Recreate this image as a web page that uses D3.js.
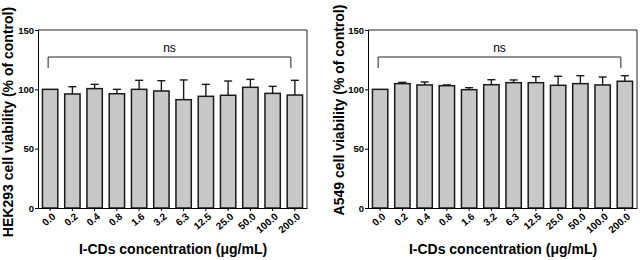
<!DOCTYPE html>
<html>
<head>
<meta charset="utf-8">
<script src="https://cdn.jsdelivr.net/npm/d3@7"></script>
<style>
  body { margin: 0; background: #fff; }
  svg { display: block; font-family: "Liberation Sans", Arial, sans-serif; }
  .axis text { font-size: 9.5px; font-weight: bold; fill: #000; }
  .axis path, .axis line { stroke: #000; stroke-width: 1; }
  .xlab { font-size: 10px; font-weight: bold; fill: #000; }
</style>
</head>
<body>
<svg width="640" height="260"></svg>
<script>
// concentrations (µg/mL)
const concentrations = ["0.0", "0.2", "0.4", "0.8", "1.6", "3.2", "6.3", "12.5", "25.0", "50.0", "100.0", "200.0"];
const yTicks = [0, 50, 100, 150];

// HEK293 viability, mean and upper error
const hekMean = [100, 96.1, 100.6, 96.3, 100, 98.6, 91.3, 94.1, 95.0, 101.7, 96.6, 95.2];
const hekErr  = [0, 6.1, 3.6, 3.7, 7.6, 8.7, 16.6, 10.1, 12.0, 6.7, 5.9, 12.4];

// A549 viability
const a549Mean = [100, 104.8, 103.7, 103.1, 99.7, 103.9, 105.6, 105.6, 103.4, 104.8, 103.7, 106.8];
const a549Err  = [0, 1.1, 2.5, 0.6, 1.7, 4.2, 2.3, 5.1, 7.6, 6.7, 6.7, 4.7];

const panels = [
    { x0: 38, label: "HEK293 cell viability (% of control)", mean: hekMean, err: hekErr, labelX: 13, labelY: 122 },
    { x0: 368, label: "A549 cell viability (% of control)", mean: a549Mean, err: a549Err, labelX: 344, labelY: 110 }
];

const svg = d3.select("svg");
const plotW = 269, plotTop = 30, plotBottom = 208;

let y = d3.scaleLinear().domain([0, 150]).range([plotBottom, plotTop]);

for (let p of panels) {
    let g = svg.append("g").attr("transform", "translate(" + p.x0 + ",0)");
    let x = d3.scaleBand().domain(concentrations).range([0, plotW]).paddingInner(0.31).paddingOuter(0.2);
    let data = concentrations.map((c, i) => ({ c: c, m: p.mean[i], e: p.err[i] }));
    let cx = c => x(c) + x.bandwidth() / 2;

    // bars
    g.selectAll(".bar")
        .data(data)
        .enter().append("rect")
        .attr("x", d => x(d.c))
        .attr("y", d => y(d.m))
        .attr("width", x.bandwidth())
        .attr("height", d => y(0) - y(d.m))
        .attr("fill", "#c8c8c8")
        .attr("stroke", "#1a1a1a")
        .attr("stroke-width", 1.5);

    // error bars (upper only)
    let eb = g.selectAll(".err")
        .data(data.filter(d => d.e > 0))
        .enter().append("g");
    eb.append("line")
        .attr("x1", d => cx(d.c))
        .attr("x2", d => cx(d.c))
        .attr("y1", d => y(d.m))
        .attr("y2", d => y(d.m + d.e))
        .attr("stroke", "#1a1a1a").attr("stroke-width", 1.4);
    eb.append("line")
        .attr("x1", d => cx(d.c) - 4)
        .attr("x2", d => cx(d.c) + 4)
        .attr("y1", d => y(d.m + d.e))
        .attr("y2", d => y(d.m + d.e))
        .attr("stroke", "#1a1a1a").attr("stroke-width", 1.4);

    // frame (top and right)
    g.append("path")
        .attr("d", "M0," + plotTop + "H" + plotW + "V" + plotBottom)
        .attr("fill", "none").attr("stroke", "#222").attr("stroke-width", 1);

    // y axis
    g.append("g").attr("class", "axis")
        .call(d3.axisLeft(y).tickValues(yTicks).tickSize(3).tickPadding(1));

    // x axis, ticks only; labels drawn separately, slanted
    let xa = g.append("g").attr("class", "axis")
        .attr("transform", "translate(0," + plotBottom + ")")
        .call(d3.axisBottom(x).tickSize(3).tickSizeOuter(0).tickFormat(""));
    xa.select(".domain").attr("stroke-width", 1.5);

    g.selectAll(".xlab")
        .data(concentrations)
        .enter().append("text")
        .attr("class", "xlab")
        .attr("transform", c => "translate(" + (cx(c) + 4) + "," + (plotBottom + 7) + ") rotate(-40)")
        .attr("text-anchor", "end")
        .attr("dy", "0.35em")
        .text(c => c);

    // significance bracket
    let x1 = cx(concentrations[0]) - 2;
    let x2 = cx(concentrations[concentrations.length - 1]) - 4;
    let by = 57;
    g.append("path")
        .attr("d", "M" + x1 + "," + (by + 11) + "V" + by + "H" + x2 + "V" + (by + 11))
        .attr("fill", "none").attr("stroke", "#222").attr("stroke-width", 1);
    g.append("text")
        .attr("x", (x1 + x2) / 2)
        .attr("y", by - 5)
        .attr("text-anchor", "middle")
        .attr("fill", "#000")
        .style("font-size", "12px")
        .text("ns");

    // axis titles
    svg.append("text")
        .attr("transform", "translate(" + p.labelX + "," + p.labelY + ") rotate(-90)")
        .attr("text-anchor", "middle")
        .style("font-size", "14px").style("font-weight", "bold")
        .text(p.label);
    svg.append("text")
        .attr("x", p.x0 + 135)
        .attr("y", 254)
        .attr("text-anchor", "middle")
        .style("font-size", "14px").style("font-weight", "bold")
        .text("I-CDs concentration (μg/mL)");
}
</script>
</body>
</html>
